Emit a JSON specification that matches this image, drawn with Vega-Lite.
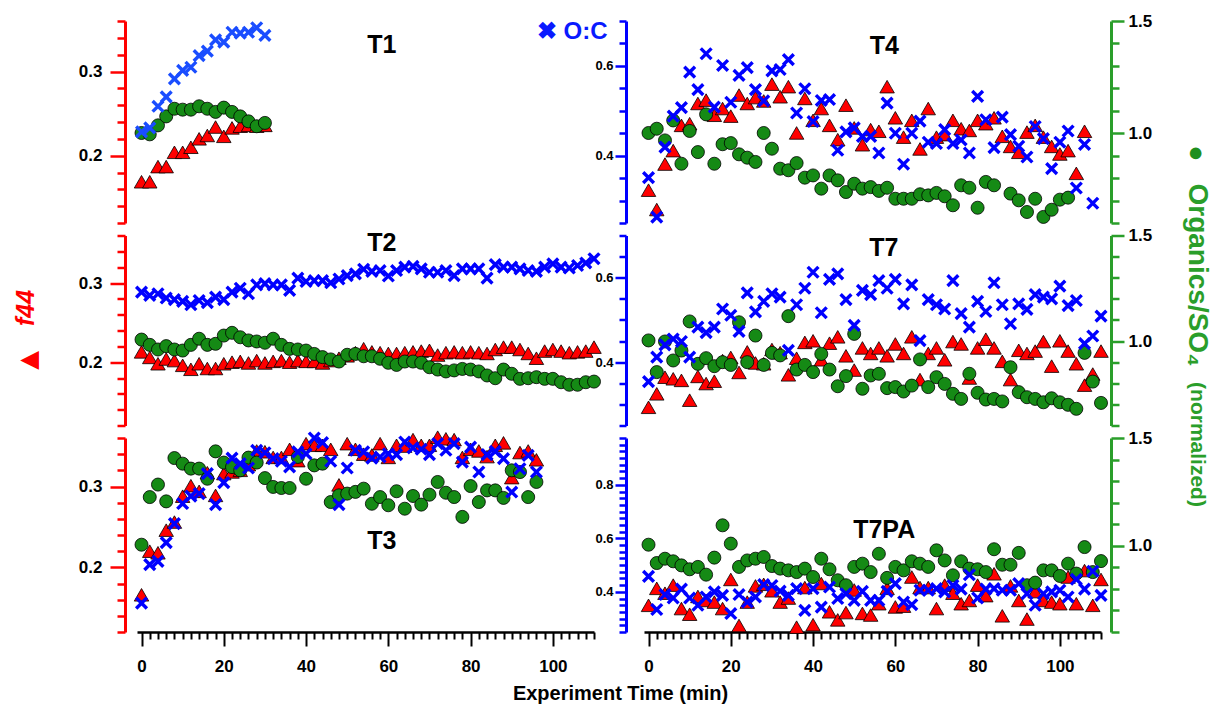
{
"$schema": "https://vega.github.io/schema/vega-lite/v6.json",
"background": "white",
"autosize": {"type": "pad"},
"padding": {"left": 12, "top": 12, "right": 4, "bottom": 5},
"config": {
 "view": {"stroke": null},
 "axis": {"grid": false, "labelFont": "Liberation Sans", "labelFontWeight": "bold", "labelColor": "#000000", "titleFont": "Liberation Sans", "titleFontWeight": "bold", "labelOverlap": false, "labelFlush": false, "labelBound": false}
},
"datasets": {
 "T1": [
  {"t":0,"f44":0.169,"oc":0.453,"org":1.001},{"t":2,"f44":0.169,"oc":0.462,"org":0.995},{"t":4,"f44":0.187,"oc":0.510,"org":1.035},{"t":6,"f44":0.187,"oc":0.531,"org":1.075},
  {"t":8,"f44":0.204,"oc":0.571,"org":1.109},{"t":10,"f44":0.204,"oc":0.590,"org":1.105},{"t":12,"f44":0.210,"oc":0.597,"org":1.105},{"t":14,"f44":0.220,"oc":0.623,"org":1.120},
  {"t":16,"f44":0.224,"oc":0.633,"org":1.109},{"t":18,"f44":0.234,"oc":0.658,"org":1.095},{"t":20,"f44":0.223,"oc":0.653,"org":1.114},{"t":22,"f44":0.233,"oc":0.675,"org":1.095},
  {"t":24,"f44":0.235,"oc":0.673,"org":1.075},{"t":26,"f44":0.236,"oc":0.675,"org":1.053},{"t":28,"f44":0.235,"oc":0.685,"org":1.031},{"t":30,"f44":0.236,"oc":0.668,"org":1.046}
 ],
 "T2": [
  {"t":0,"f44":0.213,"oc":0.566,"org":1.007},{"t":2,"f44":0.206,"oc":0.558,"org":0.982},{"t":4,"f44":0.198,"oc":0.562,"org":0.960},{"t":6,"f44":0.204,"oc":0.552,"org":0.976},
  {"t":8,"f44":0.202,"oc":0.548,"org":0.960},{"t":10,"f44":0.196,"oc":0.544,"org":0.955},{"t":12,"f44":0.191,"oc":0.536,"org":0.982},{"t":14,"f44":0.198,"oc":0.546,"org":1.011},
  {"t":16,"f44":0.192,"oc":0.541,"org":0.982},{"t":18,"f44":0.192,"oc":0.554,"org":0.987},{"t":20,"f44":0.198,"oc":0.548,"org":1.026},{"t":22,"f44":0.200,"oc":0.566,"org":1.039},
  {"t":24,"f44":0.201,"oc":0.575,"org":1.018},{"t":26,"f44":0.199,"oc":0.562,"org":1.003},{"t":28,"f44":0.202,"oc":0.583,"org":0.998},{"t":30,"f44":0.199,"oc":0.586,"org":0.992},
  {"t":32,"f44":0.201,"oc":0.583,"org":1.011},{"t":34,"f44":0.202,"oc":0.583,"org":0.982},{"t":36,"f44":0.200,"oc":0.570,"org":0.963},{"t":38,"f44":0.202,"oc":0.599,"org":0.960},
  {"t":40,"f44":0.201,"oc":0.591,"org":0.955},{"t":42,"f44":0.201,"oc":0.593,"org":0.939},{"t":44,"f44":0.199,"oc":0.593,"org":0.924},{"t":46,"f44":0.202,"oc":0.588,"org":0.913},
  {"t":48,"f44":0.205,"oc":0.597,"org":0.903},{"t":50,"f44":0.208,"oc":0.605,"org":0.935},{"t":52,"f44":0.212,"oc":0.609,"org":0.939},{"t":54,"f44":0.217,"oc":0.620,"org":0.928},
  {"t":56,"f44":0.213,"oc":0.615,"org":0.928},{"t":58,"f44":0.212,"oc":0.617,"org":0.916},{"t":60,"f44":0.211,"oc":0.604,"org":0.897},{"t":62,"f44":0.211,"oc":0.617,"org":0.887},
  {"t":64,"f44":0.212,"oc":0.625,"org":0.903},{"t":66,"f44":0.213,"oc":0.627,"org":0.903},{"t":68,"f44":0.214,"oc":0.621,"org":0.897},{"t":70,"f44":0.215,"oc":0.613,"org":0.876},
  {"t":72,"f44":0.209,"oc":0.613,"org":0.865},{"t":74,"f44":0.212,"oc":0.617,"org":0.856},{"t":76,"f44":0.213,"oc":0.605,"org":0.861},{"t":78,"f44":0.212,"oc":0.621,"org":0.868},
  {"t":80,"f44":0.213,"oc":0.621,"org":0.865},{"t":82,"f44":0.212,"oc":0.621,"org":0.856},{"t":84,"f44":0.211,"oc":0.599,"org":0.837},{"t":86,"f44":0.216,"oc":0.631,"org":0.824},
  {"t":88,"f44":0.219,"oc":0.625,"org":0.865},{"t":90,"f44":0.219,"oc":0.625,"org":0.845},{"t":92,"f44":0.216,"oc":0.621,"org":0.821},{"t":94,"f44":0.211,"oc":0.617,"org":0.824},
  {"t":96,"f44":0.205,"oc":0.615,"org":0.829},{"t":98,"f44":0.214,"oc":0.625,"org":0.821},{"t":100,"f44":0.216,"oc":0.633,"org":0.821},{"t":102,"f44":0.214,"oc":0.625,"org":0.805},
  {"t":104,"f44":0.212,"oc":0.623,"org":0.793},{"t":106,"f44":0.213,"oc":0.629,"org":0.793},{"t":108,"f44":0.214,"oc":0.635,"org":0.805},{"t":110,"f44":0.219,"oc":0.645,"org":0.808}
 ],
 "T3": [
  {"t":0,"f44":0.166,"oc":0.358,"org":1.005},{"t":2,"f44":0.220,"oc":0.502,"org":1.226},{"t":4,"f44":0.218,"oc":0.514,"org":1.284},{"t":6,"f44":0.246,"oc":0.584,"org":1.206},
  {"t":8,"f44":0.256,"oc":0.655,"org":1.407},{"t":10,"f44":0.288,"oc":0.730,"org":1.381},{"t":12,"f44":0.301,"oc":0.758,"org":1.358},{"t":14,"f44":0.294,"oc":0.767,"org":1.358},
  {"t":16,"f44":0.317,"oc":0.842,"org":1.311},{"t":18,"f44":0.289,"oc":0.726,"org":1.438},{"t":20,"f44":0.316,"oc":0.808,"org":1.386},{"t":22,"f44":0.318,"oc":0.900,"org":1.365},
  {"t":24,"f44":0.320,"oc":0.879,"org":1.350},{"t":26,"f44":0.327,"oc":0.863,"org":1.409},{"t":28,"f44":0.344,"oc":0.929,"org":1.386},{"t":30,"f44":0.343,"oc":0.920,"org":1.314},
  {"t":32,"f44":0.336,"oc":0.898,"org":1.273},{"t":34,"f44":0.336,"oc":0.888,"org":1.268},{"t":36,"f44":0.346,"oc":0.867,"org":1.268},{"t":38,"f44":0.332,"oc":0.923,"org":1.412},
  {"t":40,"f44":0.353,"oc":0.916,"org":1.311},{"t":42,"f44":0.351,"oc":0.975,"org":1.373},{"t":44,"f44":0.351,"oc":0.958,"org":1.381},{"t":46,"f44":0.346,"oc":0.888,"org":1.203},
  {"t":48,"f44":0.302,"oc":0.726,"org":1.234},{"t":50,"f44":0.353,"oc":0.863,"org":1.242},{"t":52,"f44":0.346,"oc":0.929,"org":1.250},{"t":54,"f44":0.340,"oc":0.923,"org":1.265},
  {"t":56,"f44":0.339,"oc":0.900,"org":1.195},{"t":58,"f44":0.353,"oc":0.904,"org":1.226},{"t":60,"f44":0.336,"oc":0.916,"org":1.188},{"t":62,"f44":0.351,"oc":0.913,"org":1.253},
  {"t":64,"f44":0.350,"oc":0.960,"org":1.172},{"t":66,"f44":0.358,"oc":0.938,"org":1.231},{"t":68,"f44":0.351,"oc":0.933,"org":1.191},{"t":70,"f44":0.351,"oc":0.913,"org":1.237},
  {"t":72,"f44":0.361,"oc":0.954,"org":1.296},{"t":74,"f44":0.359,"oc":0.929,"org":1.246},{"t":76,"f44":0.358,"oc":0.954,"org":1.226},{"t":78,"f44":0.336,"oc":0.885,"org":1.134},
  {"t":80,"f44":0.346,"oc":0.941,"org":1.277},{"t":82,"f44":0.344,"oc":0.848,"org":1.203},{"t":84,"f44":0.337,"oc":0.913,"org":1.257},{"t":86,"f44":0.351,"oc":0.925,"org":1.257},
  {"t":88,"f44":0.354,"oc":0.898,"org":1.222},{"t":90,"f44":0.311,"oc":0.773,"org":1.350},{"t":92,"f44":0.342,"oc":0.860,"org":1.342},{"t":94,"f44":0.344,"oc":0.910,"org":1.226},
  {"t":96,"f44":0.333,"oc":0.848,"org":1.296}
 ],
 "T4": [
  {"t":0,"f44":0.159,"oc":0.351,"org":1.001},{"t":2,"f44":0.136,"oc":0.263,"org":1.020},{"t":4,"f44":0.190,"oc":0.419,"org":0.968},{"t":6,"f44":0.206,"oc":0.488,"org":1.057},
  {"t":8,"f44":0.236,"oc":0.507,"org":0.864},{"t":10,"f44":0.238,"oc":0.586,"org":1.010},{"t":12,"f44":0.262,"oc":0.547,"org":0.916},{"t":14,"f44":0.266,"oc":0.627,"org":1.084},
  {"t":16,"f44":0.248,"oc":0.508,"org":0.864},{"t":18,"f44":0.256,"oc":0.601,"org":0.951},{"t":20,"f44":0.247,"oc":0.519,"org":0.956},{"t":22,"f44":0.272,"oc":0.579,"org":0.906},
  {"t":24,"f44":0.262,"oc":0.596,"org":0.891},{"t":26,"f44":0.269,"oc":0.547,"org":0.872},{"t":28,"f44":0.265,"oc":0.522,"org":1.001},{"t":30,"f44":0.285,"oc":0.589,"org":0.931},
  {"t":32,"f44":0.270,"oc":0.592,"org":0.842},{"t":34,"f44":0.282,"oc":0.614,"org":0.835},{"t":36,"f44":0.227,"oc":0.495,"org":0.867},{"t":38,"f44":0.268,"oc":0.549,"org":0.802},
  {"t":40,"f44":0.242,"oc":0.476,"org":0.812},{"t":42,"f44":0.256,"oc":0.523,"org":0.753},{"t":44,"f44":0.236,"oc":0.525,"org":0.812},{"t":46,"f44":0.219,"oc":0.412,"org":0.790},
  {"t":48,"f44":0.260,"oc":0.453,"org":0.738},{"t":50,"f44":0.233,"oc":0.462,"org":0.775},{"t":52,"f44":0.213,"oc":0.443,"org":0.753},{"t":54,"f44":0.231,"oc":0.443,"org":0.760},
  {"t":56,"f44":0.229,"oc":0.406,"org":0.743},{"t":58,"f44":0.282,"oc":0.517,"org":0.757},{"t":60,"f44":0.245,"oc":0.450,"org":0.708},{"t":62,"f44":0.222,"oc":0.381,"org":0.708},
  {"t":64,"f44":0.242,"oc":0.450,"org":0.708},{"t":66,"f44":0.208,"oc":0.477,"org":0.728},{"t":68,"f44":0.256,"oc":0.430,"org":0.723},{"t":70,"f44":0.222,"oc":0.427,"org":0.734},
  {"t":72,"f44":0.225,"oc":0.458,"org":0.719},{"t":74,"f44":0.242,"oc":0.427,"org":0.679},{"t":76,"f44":0.232,"oc":0.435,"org":0.768},{"t":78,"f44":0.230,"oc":0.406,"org":0.757},
  {"t":80,"f44":0.242,"oc":0.532,"org":0.668},{"t":82,"f44":0.238,"oc":0.480,"org":0.783},{"t":84,"f44":0.245,"oc":0.418,"org":0.768},{"t":86,"f44":0.223,"oc":0.486,"org":null},
  {"t":88,"f44":0.211,"oc":0.447,"org":0.731},{"t":90,"f44":0.204,"oc":0.421,"org":0.701},{"t":92,"f44":0.228,"oc":0.397,"org":0.649},{"t":94,"f44":0.236,"oc":0.465,"org":0.708},
  {"t":96,"f44":0.222,"oc":0.438,"org":0.627},{"t":98,"f44":0.211,"oc":0.371,"org":0.659},{"t":100,"f44":0.202,"oc":0.430,"org":0.704},{"t":102,"f44":0.206,"oc":0.455,"org":0.713},
  {"t":104,"f44":0.179,"oc":0.328,"org":null},{"t":106,"f44":0.229,"oc":0.425,"org":null},{"t":108,"f44":null,"oc":0.294,"org":null}
 ],
 "T7": [
  {"t":0,"f44":0.143,"oc":0.354,"org":1.003},{"t":2,"f44":0.160,"oc":0.412,"org":0.853},{"t":4,"f44":0.181,"oc":0.441,"org":0.998},{"t":6,"f44":0.179,"oc":0.455,"org":0.908},
  {"t":8,"f44":0.177,"oc":0.449,"org":0.955},{"t":10,"f44":0.152,"oc":0.412,"org":1.093},{"t":12,"f44":0.182,"oc":0.483,"org":0.892},{"t":14,"f44":0.173,"oc":0.470,"org":0.919},
  {"t":16,"f44":0.176,"oc":0.483,"org":0.881},{"t":18,"f44":0.202,"oc":0.526,"org":0.900},{"t":20,"f44":0.206,"oc":0.511,"org":0.887},{"t":22,"f44":0.187,"oc":0.473,"org":1.089},
  {"t":24,"f44":0.213,"oc":0.564,"org":0.900},{"t":26,"f44":0.199,"oc":0.519,"org":1.026},{"t":28,"f44":0.198,"oc":0.544,"org":0.887},{"t":30,"f44":0.216,"oc":0.562,"org":0.944},
  {"t":32,"f44":0.212,"oc":0.554,"org":0.932},{"t":34,"f44":0.184,"oc":0.428,"org":1.118},{"t":36,"f44":0.205,"oc":0.536,"org":0.865},{"t":38,"f44":0.225,"oc":0.575,"org":0.887},
  {"t":40,"f44":0.227,"oc":0.613,"org":0.853},{"t":42,"f44":0.203,"oc":0.517,"org":0.939},{"t":44,"f44":0.224,"oc":0.596,"org":0.865},{"t":46,"f44":0.232,"oc":0.609,"org":0.786},
  {"t":48,"f44":0.208,"oc":0.548,"org":0.834},{"t":50,"f44":0.190,"oc":0.487,"org":1.034},{"t":52,"f44":0.218,"oc":0.570,"org":0.774},{"t":54,"f44":0.211,"oc":0.560,"org":0.837},
  {"t":56,"f44":0.218,"oc":0.593,"org":0.845},{"t":58,"f44":0.208,"oc":0.575,"org":0.777},{"t":60,"f44":0.223,"oc":0.596,"org":0.782},{"t":62,"f44":0.211,"oc":0.538,"org":0.761},
  {"t":64,"f44":0.232,"oc":0.583,"org":0.789},{"t":66,"f44":0.178,"oc":0.451,"org":0.913},{"t":68,"f44":0.211,"oc":0.548,"org":0.782},{"t":70,"f44":0.218,"oc":0.536,"org":0.829},
  {"t":72,"f44":0.203,"oc":0.526,"org":0.797},{"t":74,"f44":0.226,"oc":0.593,"org":0.750},{"t":76,"f44":0.223,"oc":0.515,"org":0.726},{"t":78,"f44":0.180,"oc":0.483,"org":0.845},
  {"t":80,"f44":0.218,"oc":0.544,"org":0.755},{"t":82,"f44":0.229,"oc":0.520,"org":0.723},{"t":84,"f44":0.218,"oc":0.588,"org":0.726},{"t":86,"f44":0.201,"oc":0.536,"org":0.714},
  {"t":88,"f44":0.178,"oc":0.491,"org":0.876},{"t":90,"f44":0.215,"oc":0.538,"org":0.758},{"t":92,"f44":0.211,"oc":0.525,"org":0.734},{"t":94,"f44":0.214,"oc":0.560,"org":0.726},
  {"t":96,"f44":0.226,"oc":0.554,"org":0.710},{"t":98,"f44":0.195,"oc":0.550,"org":0.729},{"t":100,"f44":0.227,"oc":0.580,"org":0.710},{"t":102,"f44":0.214,"oc":0.534,"org":0.698},
  {"t":104,"f44":0.198,"oc":0.546,"org":0.679},{"t":106,"f44":0.171,"oc":0.444,"org":0.944},{"t":108,"f44":0.185,"oc":0.462,"org":0.808},{"t":110,"f44":0.214,"oc":0.509,"org":0.707}
 ],
 "T7PA": [
  {"t":0,"f44":0.153,"oc":0.458,"org":1.005},{"t":2,"f44":0.174,"oc":0.334,"org":0.920},{"t":4,"f44":0.168,"oc":0.390,"org":0.940},{"t":6,"f44":0.178,"oc":0.377,"org":0.928},
  {"t":8,"f44":0.149,"oc":0.410,"org":0.909},{"t":10,"f44":0.142,"oc":0.377,"org":0.891},{"t":12,"f44":0.164,"oc":0.350,"org":0.902},{"t":14,"f44":0.159,"oc":0.381,"org":0.866},
  {"t":16,"f44":0.157,"oc":0.400,"org":0.945},{"t":18,"f44":0.149,"oc":0.387,"org":1.095},{"t":20,"f44":0.185,"oc":0.319,"org":1.010},{"t":22,"f44":0.128,"oc":0.390,"org":0.902},
  {"t":24,"f44":0.157,"oc":0.362,"org":0.932},{"t":26,"f44":0.177,"oc":0.381,"org":0.940},{"t":28,"f44":0.179,"oc":0.427,"org":0.948},{"t":30,"f44":0.171,"oc":0.424,"org":0.906},
  {"t":32,"f44":0.157,"oc":0.403,"org":0.894},{"t":34,"f44":0.162,"oc":0.387,"org":0.886},{"t":36,"f44":0.126,"oc":0.412,"org":0.878},{"t":38,"f44":0.175,"oc":0.331,"org":0.894},
  {"t":40,"f44":0.129,"oc":0.412,"org":0.855},{"t":42,"f44":0.180,"oc":0.343,"org":0.940},{"t":44,"f44":0.145,"oc":0.418,"org":0.891},{"t":46,"f44":0.135,"oc":0.375,"org":0.840},
  {"t":48,"f44":0.144,"oc":0.393,"org":0.817},{"t":50,"f44":0.172,"oc":0.368,"org":0.902},{"t":52,"f44":0.143,"oc":0.402,"org":0.917},{"t":54,"f44":0.141,"oc":0.368,"org":0.878},
  {"t":56,"f44":0.155,"oc":0.368,"org":0.963},{"t":58,"f44":0.174,"oc":0.402,"org":0.851},{"t":60,"f44":0.151,"oc":0.431,"org":0.902},{"t":62,"f44":0.152,"oc":0.362,"org":0.886},
  {"t":64,"f44":0.188,"oc":0.352,"org":0.928},{"t":66,"f44":0.175,"oc":0.406,"org":0.917},{"t":68,"f44":0.175,"oc":0.406,"org":0.902},{"t":70,"f44":0.149,"oc":0.412,"org":0.979},
  {"t":72,"f44":0.178,"oc":0.400,"org":0.932},{"t":74,"f44":0.168,"oc":0.424,"org":0.863},{"t":76,"f44":0.155,"oc":0.410,"org":0.928},{"t":78,"f44":0.159,"oc":0.464,"org":0.894},
  {"t":80,"f44":0.178,"oc":0.377,"org":0.891},{"t":82,"f44":0.165,"oc":0.410,"org":0.878},{"t":84,"f44":0.192,"oc":0.412,"org":0.984},{"t":86,"f44":0.140,"oc":0.406,"org":0.912},
  {"t":88,"f44":0.177,"oc":0.406,"org":0.912},{"t":90,"f44":0.159,"oc":0.431,"org":0.967},{"t":92,"f44":0.136,"oc":0.393,"org":0.817},{"t":94,"f44":0.170,"oc":0.350,"org":0.829},
  {"t":96,"f44":0.159,"oc":0.393,"org":0.886},{"t":98,"f44":0.157,"oc":0.400,"org":0.886},{"t":100,"f44":0.155,"oc":0.406,"org":0.860},{"t":102,"f44":0.188,"oc":0.381,"org":0.917},
  {"t":104,"f44":0.155,"oc":0.447,"org":0.871},{"t":106,"f44":0.196,"oc":0.410,"org":0.994},{"t":108,"f44":0.153,"oc":0.477,"org":0.878},{"t":110,"f44":0.185,"oc":0.387,"org":0.929}
 ]
},
"columns": 2,
"spacing": {"row": 12.5, "column": 50},
"bounds": "flush",
"concat": [
  {"width": 457, "height": 202, "data": {"name": "T1"},
   "layer": [
    {"mark": {"type":"point","shape":"triangle-up","filled":true,"fill":"#ff0000","stroke":"#000000","strokeWidth":0.8,"size":210,"opacity":1},
     "encoding": {"x": {"field":"t","type":"quantitative","scale":{"domain":[-1.1,110],"nice":false,"zero":false},"axis":null},
      "y": {"field":"f44","type":"quantitative","scale":{"domain":[0.12,0.36],"nice":false,"zero":false},
       "axis": {"orient":"left","offset":12,"values":[0.12,0.14,0.16,0.18,0.2,0.22,0.24,0.26,0.28,0.3,0.32,0.34,0.36],"labelExpr":"abs(datum.value-0.2)<0.001 ? '0.2' : abs(datum.value-0.3)<0.001 ? '0.3' : ''","tickSize":{"condition":{"test":"abs(datum.value-0.2)<0.001 || abs(datum.value-0.3)<0.001","value":15},"value":8},"tickWidth":2.5,"tickColor":"#ff0000","domainColor":"#ff0000","domainWidth":3,"labelFontSize":17,"labelPadding":8,"title":null}}}},
    {"mark": {"type":"point","shape":"circle","filled":true,"fill":"#158a15","stroke":"#000000","strokeWidth":0.8,"size":170,"opacity":1},
     "encoding": {"x": {"field":"t","type":"quantitative","scale":{"domain":[-1.1,110],"nice":false,"zero":false},"axis":null},
      "y": {"field":"org","type":"quantitative","scale":{"domain":[0.6,1.5],"nice":false,"zero":false},"axis":null}}},
    {"mark": {"type":"point","shape":"M-1,-1L1,1M-1,1L1,-1","filled":false,"stroke":"#1a4dff","strokeWidth":3.4,"size":115,"opacity":1},
     "encoding": {"x": {"field":"t","type":"quantitative","scale":{"domain":[-1.1,110],"nice":false,"zero":false},"axis":null},
      "y": {"field":"oc","type":"quantitative","scale":{"domain":[0.25,0.7],"nice":false,"zero":false},"axis":null}}},
    {"data": {"values": [{}]},
     "mark": {"type":"text","text":"T1","font":"Liberation Sans","fontWeight":"bold","fontSize":25,"align":"center","baseline":"middle","color":"#000000"},
     "encoding": {"x": {"datum":58.4,"type":"quantitative","scale":{"domain":[-1.1,110],"nice":false,"zero":false},"axis":null},
      "y": {"datum":0.331,"type":"quantitative","scale":{"domain":[0.12,0.36],"nice":false,"zero":false},"axis":null}}}
   ],
   "resolve": {"scale": {"y": "independent"}}},
  {"width": 457, "height": 202, "data": {"name": "T4"},
   "layer": [
    {"mark": {"type":"point","shape":"triangle-up","filled":true,"fill":"#ff0000","stroke":"#000000","strokeWidth":0.8,"size":210,"opacity":1},
     "encoding": {"x": {"field":"t","type":"quantitative","scale":{"domain":[-1.1,110],"nice":false,"zero":false},"axis":null},
      "y": {"field":"f44","type":"quantitative","scale":{"domain":[0.12,0.36],"nice":false,"zero":false},"axis":null}}},
    {"mark": {"type":"point","shape":"circle","filled":true,"fill":"#158a15","stroke":"#000000","strokeWidth":0.8,"size":170,"opacity":1},
     "encoding": {"x": {"field":"t","type":"quantitative","scale":{"domain":[-1.1,110],"nice":false,"zero":false},"axis":null},
      "y": {"field":"org","type":"quantitative","scale":{"domain":[0.6,1.5],"nice":false,"zero":false},
       "axis": {"orient":"right","offset":10,"values":[0.6,0.7,0.8,0.9,1.0,1.1,1.2,1.3,1.4,1.5],"labelExpr":"abs(datum.value-1)<0.001 ? '1.0' : abs(datum.value-1.5)<0.001 ? '1.5' : ''","tickSize":{"condition":{"test":"abs(datum.value-1)<0.001 || abs(datum.value-1.5)<0.001","value":13},"value":8},"tickWidth":2.5,"tickColor":"#2a9e2a","domainColor":"#2a9e2a","domainWidth":3,"labelFontSize":17,"labelPadding":4,
        "title":"●","titleColor":"#1f8f1f","titleFontSize":27,"titleAngle":90,"titleAlign":"center","titleBaseline":"middle","titleX":84,"titleY":132}}}},
    {"mark": {"type":"point","shape":"M-1,-1L1,1M-1,1L1,-1","filled":false,"stroke":"#0000ff","strokeWidth":3.4,"size":115,"opacity":1},
     "encoding": {"x": {"field":"t","type":"quantitative","scale":{"domain":[-1.1,110],"nice":false,"zero":false},"axis":null},
      "y": {"field":"oc","type":"quantitative","scale":{"domain":[0.25,0.7],"nice":false,"zero":false},
       "axis": {"orient":"left","offset":18,"values":[0.25,0.3,0.35,0.4,0.45,0.5,0.55,0.6,0.65,0.7],"labelExpr":"abs(datum.value-0.4)<0.001 ? '0.4' : abs(datum.value-0.6)<0.001 ? '0.6' : ''","tickSize":{"condition":{"test":"abs(datum.value-0.4)<0.001 || abs(datum.value-0.6)<0.001","value":11},"value":7},"tickWidth":2.5,"tickColor":"#0000ff","domainColor":"#0000ff","domainWidth":3,"labelFontSize":13,"labelPadding":2,
        "title":"✖   O:C","titleColor":"#0a1aff","titleFontSize":24,"titleAngle":0,"titleAlign":"right","titleBaseline":"middle","titleX":-19,"titleY":10}}}},
    {"data": {"values": [{}]},
     "mark": {"type":"text","text":"T4","font":"Liberation Sans","fontWeight":"bold","fontSize":25,"align":"center","baseline":"middle","color":"#000000"},
     "encoding": {"x": {"datum":57.3,"type":"quantitative","scale":{"domain":[-1.1,110],"nice":false,"zero":false},"axis":null},
      "y": {"datum":0.33,"type":"quantitative","scale":{"domain":[0.12,0.36],"nice":false,"zero":false},"axis":null}}}
   ],
   "resolve": {"scale": {"y": "independent"}}},
  {"width": 457, "height": 190, "data": {"name": "T2"},
   "layer": [
    {"mark": {"type":"point","shape":"triangle-up","filled":true,"fill":"#ff0000","stroke":"#000000","strokeWidth":0.8,"size":210,"opacity":1},
     "encoding": {"x": {"field":"t","type":"quantitative","scale":{"domain":[-1.1,110],"nice":false,"zero":false},"axis":null},
      "y": {"field":"f44","type":"quantitative","scale":{"domain":[0.12,0.36],"nice":false,"zero":false},
       "axis": {"orient":"left","offset":12,"values":[0.12,0.14,0.16,0.18,0.2,0.22,0.24,0.26,0.28,0.3,0.32,0.34,0.36],"labelExpr":"abs(datum.value-0.2)<0.001 ? '0.2' : abs(datum.value-0.3)<0.001 ? '0.3' : ''","tickSize":{"condition":{"test":"abs(datum.value-0.2)<0.001 || abs(datum.value-0.3)<0.001","value":15},"value":8},"tickWidth":2.5,"tickColor":"#ff0000","domainColor":"#ff0000","domainWidth":3,"labelFontSize":17,"labelPadding":8,
        "title":"f44","titleColor":"#ff0000","titleFontStyle":"italic","titleFontSize":25,"titleAngle":270,"titleAlign":"center","titleBaseline":"middle","titleX":-100,"titleY":72}}}},
    {"mark": {"type":"point","shape":"circle","filled":true,"fill":"#158a15","stroke":"#000000","strokeWidth":0.8,"size":170,"opacity":1},
     "encoding": {"x": {"field":"t","type":"quantitative","scale":{"domain":[-1.1,110],"nice":false,"zero":false},"axis":null},
      "y": {"field":"org","type":"quantitative","scale":{"domain":[0.6,1.5],"nice":false,"zero":false},"axis":null}}},
    {"mark": {"type":"point","shape":"M-1,-1L1,1M-1,1L1,-1","filled":false,"stroke":"#0000ff","strokeWidth":3.4,"size":115,"opacity":1},
     "encoding": {"x": {"field":"t","type":"quantitative","scale":{"domain":[-1.1,110],"nice":false,"zero":false},"axis":null},
      "y": {"field":"oc","type":"quantitative","scale":{"domain":[0.25,0.7],"nice":false,"zero":false},"axis":null}}},
    {"data": {"values": [{}]},
     "mark": {"type":"text","text":"T2","font":"Liberation Sans","fontWeight":"bold","fontSize":25,"align":"center","baseline":"middle","color":"#000000"},
     "encoding": {"x": {"datum":58.4,"type":"quantitative","scale":{"domain":[-1.1,110],"nice":false,"zero":false},"axis":null},
      "y": {"datum":0.35,"type":"quantitative","scale":{"domain":[0.12,0.36],"nice":false,"zero":false},"axis":null}}}
   ],
   "resolve": {"scale": {"y": "independent"}}},
  {"width": 457, "height": 190, "data": {"name": "T7"},
   "layer": [
    {"mark": {"type":"point","shape":"triangle-up","filled":true,"fill":"#ff0000","stroke":"#000000","strokeWidth":0.8,"size":210,"opacity":1},
     "encoding": {"x": {"field":"t","type":"quantitative","scale":{"domain":[-1.1,110],"nice":false,"zero":false},"axis":null},
      "y": {"field":"f44","type":"quantitative","scale":{"domain":[0.12,0.36],"nice":false,"zero":false},"axis":null}}},
    {"mark": {"type":"point","shape":"circle","filled":true,"fill":"#158a15","stroke":"#000000","strokeWidth":0.8,"size":170,"opacity":1},
     "encoding": {"x": {"field":"t","type":"quantitative","scale":{"domain":[-1.1,110],"nice":false,"zero":false},"axis":null},
      "y": {"field":"org","type":"quantitative","scale":{"domain":[0.6,1.5],"nice":false,"zero":false},
       "axis": {"orient":"right","offset":10,"values":[0.6,0.7,0.8,0.9,1.0,1.1,1.2,1.3,1.4,1.5],"labelExpr":"abs(datum.value-1)<0.001 ? '1.0' : abs(datum.value-1.5)<0.001 ? '1.5' : ''","tickSize":{"condition":{"test":"abs(datum.value-1)<0.001 || abs(datum.value-1.5)<0.001","value":13},"value":8},"tickWidth":2.5,"tickColor":"#2a9e2a","domainColor":"#2a9e2a","domainWidth":3,"labelFontSize":17,"labelPadding":4,
        "title":"Organics/SO₄","titleColor":"#2a9e2a","titleFontSize":28,"titleAngle":90,"titleAlign":"center","titleBaseline":"middle","titleX":85,"titleY":39}}}},
    {"mark": {"type":"point","shape":"M-1,-1L1,1M-1,1L1,-1","filled":false,"stroke":"#0000ff","strokeWidth":3.4,"size":115,"opacity":1},
     "encoding": {"x": {"field":"t","type":"quantitative","scale":{"domain":[-1.1,110],"nice":false,"zero":false},"axis":null},
      "y": {"field":"oc","type":"quantitative","scale":{"domain":[0.25,0.7],"nice":false,"zero":false},
       "axis": {"orient":"left","offset":18,"values":[0.25,0.3,0.35,0.4,0.45,0.5,0.55,0.6,0.65,0.7],"labelExpr":"abs(datum.value-0.4)<0.001 ? '0.4' : abs(datum.value-0.6)<0.001 ? '0.6' : ''","tickSize":{"condition":{"test":"abs(datum.value-0.4)<0.001 || abs(datum.value-0.6)<0.001","value":11},"value":7},"tickWidth":2.5,"tickColor":"#0000ff","domainColor":"#0000ff","domainWidth":3,"labelFontSize":13,"labelPadding":2,"title":null}}}},
    {"data": {"values": [{}]},
     "mark": {"type":"text","text":"T7","font":"Liberation Sans","fontWeight":"bold","fontSize":25,"align":"center","baseline":"middle","color":"#000000"},
     "encoding": {"x": {"datum":57.2,"type":"quantitative","scale":{"domain":[-1.1,110],"nice":false,"zero":false},"axis":null},
      "y": {"datum":0.344,"type":"quantitative","scale":{"domain":[0.12,0.36],"nice":false,"zero":false},"axis":null}}}
   ],
   "resolve": {"scale": {"y": "independent"}}},
  {"width": 457, "height": 194, "data": {"name": "T3"},
   "layer": [
    {"mark": {"type":"point","shape":"triangle-up","filled":true,"fill":"#ff0000","stroke":"#000000","strokeWidth":0.8,"size":210,"opacity":1},
     "encoding": {"x": {"field":"t","type":"quantitative","scale":{"domain":[-1.1,110],"nice":false,"zero":false},
       "axis": {"values":[0,2,4,6,8,10,12,14,16,18,20,22,24,26,28,30,32,34,36,38,40,42,44,46,48,50,52,54,56,58,60,62,64,66,68,70,72,74,76,78,80,82,84,86,88,90,92,94,96,98,100,102,104,106,108,110],"labelExpr":"datum.value % 20 == 0 ? format(datum.value, 'd') : ''","tickSize":{"condition":{"test":"datum.value % 20 == 0","value":14},"value":7},"tickColor":"#000000","tickWidth":2,"domainColor":"#000000","domainWidth":2.5,"labelFontSize":17,"labelPadding":12,"title":"Experiment Time (min)","titleFontSize":20,"titleColor":"#000000","titleAlign":"center","titleBaseline":"middle","titleX":483,"titleY":61}},
      "y": {"field":"f44","type":"quantitative","scale":{"domain":[0.12,0.36],"nice":false,"zero":false},
       "axis": {"orient":"left","offset":12,"values":[0.12,0.14,0.16,0.18,0.2,0.22,0.24,0.26,0.28,0.3,0.32,0.34,0.36],"labelExpr":"abs(datum.value-0.2)<0.001 ? '0.2' : abs(datum.value-0.3)<0.001 ? '0.3' : ''","tickSize":{"condition":{"test":"abs(datum.value-0.2)<0.001 || abs(datum.value-0.3)<0.001","value":15},"value":8},"tickWidth":2.5,"tickColor":"#ff0000","domainColor":"#ff0000","domainWidth":3,"labelFontSize":17,"labelPadding":8,
        "title":"▲","titleColor":"#ff0000","titleFontSize":32,"titleAngle":270,"titleAlign":"center","titleBaseline":"middle","titleX":-97,"titleY":-78}}}},
    {"mark": {"type":"point","shape":"circle","filled":true,"fill":"#158a15","stroke":"#000000","strokeWidth":0.8,"size":170,"opacity":1},
     "encoding": {"x": {"field":"t","type":"quantitative","scale":{"domain":[-1.1,110],"nice":false,"zero":false},
       "axis": {"values":[0,2,4,6,8,10,12,14,16,18,20,22,24,26,28,30,32,34,36,38,40,42,44,46,48,50,52,54,56,58,60,62,64,66,68,70,72,74,76,78,80,82,84,86,88,90,92,94,96,98,100,102,104,106,108,110],"labelExpr":"datum.value % 20 == 0 ? format(datum.value, 'd') : ''","tickSize":{"condition":{"test":"datum.value % 20 == 0","value":14},"value":7},"tickColor":"#000000","tickWidth":2,"domainColor":"#000000","domainWidth":2.5,"labelFontSize":17,"labelPadding":12,"title":"Experiment Time (min)","titleFontSize":20,"titleColor":"#000000","titleAlign":"center","titleBaseline":"middle","titleX":483,"titleY":61}},
      "y": {"field":"org","type":"quantitative","scale":{"domain":[0.6,1.5],"nice":false,"zero":false},"axis":null}}},
    {"mark": {"type":"point","shape":"M-1,-1L1,1M-1,1L1,-1","filled":false,"stroke":"#0000ff","strokeWidth":3.4,"size":115,"opacity":1},
     "encoding": {"x": {"field":"t","type":"quantitative","scale":{"domain":[-1.1,110],"nice":false,"zero":false},
       "axis": {"values":[0,2,4,6,8,10,12,14,16,18,20,22,24,26,28,30,32,34,36,38,40,42,44,46,48,50,52,54,56,58,60,62,64,66,68,70,72,74,76,78,80,82,84,86,88,90,92,94,96,98,100,102,104,106,108,110],"labelExpr":"datum.value % 20 == 0 ? format(datum.value, 'd') : ''","tickSize":{"condition":{"test":"datum.value % 20 == 0","value":14},"value":7},"tickColor":"#000000","tickWidth":2,"domainColor":"#000000","domainWidth":2.5,"labelFontSize":17,"labelPadding":12,"title":"Experiment Time (min)","titleFontSize":20,"titleColor":"#000000","titleAlign":"center","titleBaseline":"middle","titleX":483,"titleY":61}},
      "y": {"field":"oc","type":"quantitative","scale":{"domain":[0.25,0.975],"nice":false,"zero":false},"axis":null}}},
    {"data": {"values": [{}]},
     "mark": {"type":"text","text":"T3","font":"Liberation Sans","fontWeight":"bold","fontSize":25,"align":"center","baseline":"middle","color":"#000000"},
     "encoding": {"x": {"datum":58.4,"type":"quantitative","scale":{"domain":[-1.1,110],"nice":false,"zero":false},
       "axis": {"values":[0,2,4,6,8,10,12,14,16,18,20,22,24,26,28,30,32,34,36,38,40,42,44,46,48,50,52,54,56,58,60,62,64,66,68,70,72,74,76,78,80,82,84,86,88,90,92,94,96,98,100,102,104,106,108,110],"labelExpr":"datum.value % 20 == 0 ? format(datum.value, 'd') : ''","tickSize":{"condition":{"test":"datum.value % 20 == 0","value":14},"value":7},"tickColor":"#000000","tickWidth":2,"domainColor":"#000000","domainWidth":2.5,"labelFontSize":17,"labelPadding":12,"title":"Experiment Time (min)","titleFontSize":20,"titleColor":"#000000","titleAlign":"center","titleBaseline":"middle","titleX":483,"titleY":61}},
      "y": {"datum":0.233,"type":"quantitative","scale":{"domain":[0.12,0.36],"nice":false,"zero":false},"axis":null}}}
   ],
   "resolve": {"scale": {"y": "independent"}}},
  {"width": 457, "height": 194, "data": {"name": "T7PA"},
   "layer": [
    {"mark": {"type":"point","shape":"triangle-up","filled":true,"fill":"#ff0000","stroke":"#000000","strokeWidth":0.8,"size":210,"opacity":1},
     "encoding": {"x": {"field":"t","type":"quantitative","scale":{"domain":[-1.1,110],"nice":false,"zero":false},
       "axis": {"values":[0,2,4,6,8,10,12,14,16,18,20,22,24,26,28,30,32,34,36,38,40,42,44,46,48,50,52,54,56,58,60,62,64,66,68,70,72,74,76,78,80,82,84,86,88,90,92,94,96,98,100,102,104,106,108,110],"labelExpr":"datum.value % 20 == 0 ? format(datum.value, 'd') : ''","tickSize":{"condition":{"test":"datum.value % 20 == 0","value":14},"value":7},"tickColor":"#000000","tickWidth":2,"domainColor":"#000000","domainWidth":2.5,"labelFontSize":17,"labelPadding":12,"title":null}},
      "y": {"field":"f44","type":"quantitative","scale":{"domain":[0.12,0.36],"nice":false,"zero":false},"axis":null}}},
    {"mark": {"type":"point","shape":"circle","filled":true,"fill":"#158a15","stroke":"#000000","strokeWidth":0.8,"size":170,"opacity":1},
     "encoding": {"x": {"field":"t","type":"quantitative","scale":{"domain":[-1.1,110],"nice":false,"zero":false},
       "axis": {"values":[0,2,4,6,8,10,12,14,16,18,20,22,24,26,28,30,32,34,36,38,40,42,44,46,48,50,52,54,56,58,60,62,64,66,68,70,72,74,76,78,80,82,84,86,88,90,92,94,96,98,100,102,104,106,108,110],"labelExpr":"datum.value % 20 == 0 ? format(datum.value, 'd') : ''","tickSize":{"condition":{"test":"datum.value % 20 == 0","value":14},"value":7},"tickColor":"#000000","tickWidth":2,"domainColor":"#000000","domainWidth":2.5,"labelFontSize":17,"labelPadding":12,"title":null}},
      "y": {"field":"org","type":"quantitative","scale":{"domain":[0.6,1.5],"nice":false,"zero":false},
       "axis": {"orient":"right","offset":10,"values":[0.6,0.7,0.8,0.9,1.0,1.1,1.2,1.3,1.4,1.5],"labelExpr":"abs(datum.value-1)<0.001 ? '1.0' : abs(datum.value-1.5)<0.001 ? '1.5' : ''","tickSize":{"condition":{"test":"abs(datum.value-1)<0.001 || abs(datum.value-1.5)<0.001","value":13},"value":8},"tickWidth":2.5,"tickColor":"#2a9e2a","domainColor":"#2a9e2a","domainWidth":3,"labelFontSize":17,"labelPadding":4,
        "title":"(normalized)","titleColor":"#2a9e2a","titleFontSize":21,"titleAngle":90,"titleAlign":"center","titleBaseline":"middle","titleX":85,"titleY":6}}}},
    {"mark": {"type":"point","shape":"M-1,-1L1,1M-1,1L1,-1","filled":false,"stroke":"#0000ff","strokeWidth":3.4,"size":115,"opacity":1},
     "encoding": {"x": {"field":"t","type":"quantitative","scale":{"domain":[-1.1,110],"nice":false,"zero":false},
       "axis": {"values":[0,2,4,6,8,10,12,14,16,18,20,22,24,26,28,30,32,34,36,38,40,42,44,46,48,50,52,54,56,58,60,62,64,66,68,70,72,74,76,78,80,82,84,86,88,90,92,94,96,98,100,102,104,106,108,110],"labelExpr":"datum.value % 20 == 0 ? format(datum.value, 'd') : ''","tickSize":{"condition":{"test":"datum.value % 20 == 0","value":14},"value":7},"tickColor":"#000000","tickWidth":2,"domainColor":"#000000","domainWidth":2.5,"labelFontSize":17,"labelPadding":12,"title":null}},
      "y": {"field":"oc","type":"quantitative","scale":{"domain":[0.25,0.975],"nice":false,"zero":false},
       "axis": {"orient":"left","offset":18,"values":[0.25,0.275,0.3,0.325,0.35,0.375,0.4,0.425,0.45,0.475,0.5,0.525,0.55,0.575,0.6,0.625,0.65,0.675,0.7,0.725,0.75,0.775,0.8,0.825,0.85,0.875,0.9,0.925,0.95,0.975],"labelExpr":"abs(datum.value-0.4)<0.001 ? '0.4' : abs(datum.value-0.6)<0.001 ? '0.6' : abs(datum.value-0.8)<0.001 ? '0.8' : ''","tickSize":{"condition":{"test":"abs(datum.value-0.4)<0.001 || abs(datum.value-0.6)<0.001 || abs(datum.value-0.8)<0.001","value":11},"value":7},"tickWidth":2.5,"tickColor":"#0000ff","domainColor":"#0000ff","domainWidth":3,"labelFontSize":13,"labelPadding":2,"title":null}}}},
    {"data": {"values": [{}]},
     "mark": {"type":"text","text":"T7PA","font":"Liberation Sans","fontWeight":"bold","fontSize":25,"align":"center","baseline":"middle","color":"#000000"},
     "encoding": {"x": {"datum":57.3,"type":"quantitative","scale":{"domain":[-1.1,110],"nice":false,"zero":false},
       "axis": {"values":[0,2,4,6,8,10,12,14,16,18,20,22,24,26,28,30,32,34,36,38,40,42,44,46,48,50,52,54,56,58,60,62,64,66,68,70,72,74,76,78,80,82,84,86,88,90,92,94,96,98,100,102,104,106,108,110],"labelExpr":"datum.value % 20 == 0 ? format(datum.value, 'd') : ''","tickSize":{"condition":{"test":"datum.value % 20 == 0","value":14},"value":7},"tickColor":"#000000","tickWidth":2,"domainColor":"#000000","domainWidth":2.5,"labelFontSize":17,"labelPadding":12,"title":null}},
      "y": {"datum":0.246,"type":"quantitative","scale":{"domain":[0.12,0.36],"nice":false,"zero":false},"axis":null}}}
   ],
   "resolve": {"scale": {"y": "independent"}}}
]
}
